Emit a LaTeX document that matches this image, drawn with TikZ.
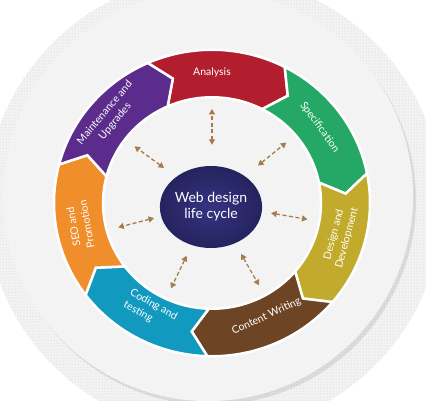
\documentclass[tikz,border=0pt]{standalone}
\usepackage{fontspec}
\setmainfont{Lato}
\usetikzlibrary{arrows.meta,patterns,shadows,shapes.geometric}

\definecolor{analysisred}{HTML}{B31E2F}
\definecolor{specgreen}{HTML}{25A866}
\definecolor{designolive}{HTML}{C2AB2C}
\definecolor{contentbrown}{HTML}{6E4524}
\definecolor{codingcyan}{HTML}{1199BF}
\definecolor{seoorange}{HTML}{EF8E2B}
\definecolor{maintpurple}{HTML}{5B2C8C}
\definecolor{hubnavy}{HTML}{25235E}
\definecolor{hublight}{HTML}{363482}
\definecolor{linkbrown}{HTML}{A67B4E}
\definecolor{platewhite}{HTML}{F6F6F6}
\definecolor{dotgray}{HTML}{F3F3F3}

\begin{document}
\begin{tikzpicture}[x=1pt,y=1pt,
  phase/.style={fill=#1,draw=white,line width=2.5pt,line join=miter},
  phasetext/.style={text=white,font=\fontsize{10.5}{13.5}\selectfont,align=center,inner sep=0pt},
  link/.style={draw=linkbrown,line width=1.3pt,dash pattern=on 4pt off 2.5pt,
    {Triangle[length=5.5pt,width=6pt]}-{Triangle[length=5.5pt,width=6pt]}},
  hub/.style={ellipse,minimum width=93pt,minimum height=82pt,inner sep=0pt,
    inner color=hublight,outer color=hubnavy,text=white,
    font=\fontsize{14}{16}\selectfont,align=center}]
\useasboundingbox (-212,-197) rectangle (214,203);
\clip (-212,-197) rectangle (214,203);
\fill[dotgray] (2,-1) circle (228);
\fill[pattern=dots,pattern color=gray!40] (2,-1) circle (228);
\fill[platewhite,drop shadow={shadow xshift=3pt,shadow yshift=-4pt,opacity=0.2}] (-4,7) circle (205);
\fill[pattern=north east lines,pattern color=gray!12] (-4,7) circle (205);
\begin{scope}[yscale=0.97]
\def\R{158}
\def\r{109}
\def\Rm{134}
\foreach \col [count=\i from 0] in {analysisred,specgreen,designolive,contentbrown,codingcyan,seoorange,maintpurple}{
  \pgfmathsetmacro\s{114-51.4286*\i}
  \pgfmathsetmacro\e{\s-51.4286}
  \path[phase=\col] (\s:\R) arc[start angle=\s,end angle=\e,radius=\R]
    -- ({\e-7}:\Rm) -- (\e:\r) arc[start angle=\e,end angle=\s,radius=\r]
    -- ({\s-7}:\Rm) -- cycle;
}
\node[phasetext] (analysis) at (90:134) {Analysis};
\node[phasetext,rotate=-54] (spec) at (36:133) {Specification};
\node[phasetext,rotate=75] (design) at (-15:133) {Design and\\Development};
\node[phasetext,rotate=25] (content) at (-65:129) {Content Writing};
\node[phasetext,rotate=-29,align=left] (coding) at (-119:127) {Coding and\\testing};
\node[phasetext,rotate=100] (seo) at (190:134) {SEO and\\Promotion};
\node[phasetext,rotate=50] (maint) at (139:135) {Maintenance and\\Upgrades};
\foreach \a [count=\i] in {90,40,-10,-61,-115,195,143}{
  \coordinate (in\i) at (\a:60);
  \coordinate (out\i) at (\a:97);
  \draw[link] (in\i) -- (out\i);
}
\end{scope}
\node[hub] (hub) at (-1,-4) {Web design\\life cycle};
\end{tikzpicture}
\end{document}
